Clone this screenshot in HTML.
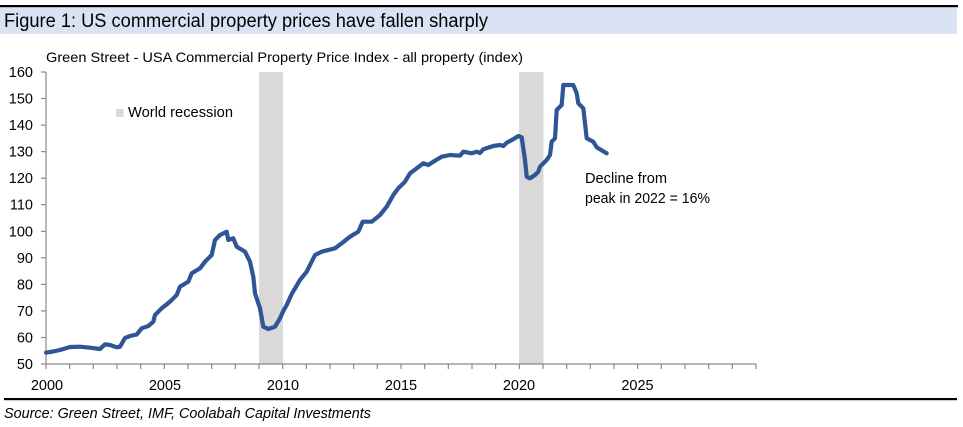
<!DOCTYPE html>
<html>
<head>
<meta charset="utf-8">
<style>
html,body{margin:0;padding:0;background:#fff;}
svg{display:block;}
text{font-family:"Liberation Sans",Arial,sans-serif;fill:#000;}
</style>
</head>
<body>
<svg width="963" height="427" viewBox="0 0 963 427" xmlns="http://www.w3.org/2000/svg">
  <!-- header -->
  <rect x="0" y="7" width="957" height="27" fill="#dae3f3"/>
  <rect x="0" y="5" width="958" height="2.2" fill="#000"/>
  <text x="4" y="27" font-size="19" textLength="484" lengthAdjust="spacingAndGlyphs">Figure 1: US commercial property prices have fallen sharply</text>

  <!-- subtitle -->
  <text x="46" y="62" font-size="14" textLength="477" lengthAdjust="spacingAndGlyphs">Green Street - USA Commercial Property Price Index - all property (index)</text>

  <!-- recession bars -->
  <rect x="259" y="72" width="24" height="292" fill="#d9d9d9"/>
  <rect x="519" y="72" width="24.5" height="292" fill="#d9d9d9"/>

  <!-- legend -->
  <rect x="116" y="109" width="7.5" height="8" fill="#d9d9d9"/>
  <text x="128" y="117" font-size="15" textLength="105" lengthAdjust="spacingAndGlyphs">World recession</text>

  <!-- axes -->
  <g stroke="#898989" stroke-width="1.2" fill="none">
    <line x1="46" y1="72" x2="46" y2="364"/>
    <line x1="46" y1="364" x2="756" y2="364"/>
    <line x1="41" y1="72" x2="46" y2="72"/>
    <line x1="41" y1="98.5" x2="46" y2="98.5"/>
    <line x1="41" y1="125.1" x2="46" y2="125.1"/>
    <line x1="41" y1="151.6" x2="46" y2="151.6"/>
    <line x1="41" y1="178.2" x2="46" y2="178.2"/>
    <line x1="41" y1="204.7" x2="46" y2="204.7"/>
    <line x1="41" y1="231.3" x2="46" y2="231.3"/>
    <line x1="41" y1="257.8" x2="46" y2="257.8"/>
    <line x1="41" y1="284.4" x2="46" y2="284.4"/>
    <line x1="41" y1="310.9" x2="46" y2="310.9"/>
    <line x1="41" y1="337.5" x2="46" y2="337.5"/>
    <line x1="41" y1="364" x2="46" y2="364"/>
    <path d="M46 364v5M69.67 364v5M93.33 364v5M117 364v5M140.67 364v5M164.33 364v5M188 364v5M211.67 364v5M235.33 364v5M259 364v5M282.67 364v5M306.33 364v5M330 364v5M353.67 364v5M377.33 364v5M401 364v5M424.67 364v5M448.33 364v5M472 364v5M495.67 364v5M519.33 364v5M543 364v5M566.67 364v5M590.33 364v5M614 364v5M637.67 364v5M661.33 364v5M685 364v5M708.67 364v5M732.33 364v5M756 364v5"/>
  </g>

  <!-- y labels -->
  <g font-size="14.5" text-anchor="end">
    <text x="33" y="77">160</text>
    <text x="33" y="103.5">150</text>
    <text x="33" y="130.1">140</text>
    <text x="33" y="156.6">130</text>
    <text x="33" y="183.2">120</text>
    <text x="33" y="209.7">110</text>
    <text x="33" y="236.3">100</text>
    <text x="33" y="262.8">90</text>
    <text x="33" y="289.4">80</text>
    <text x="33" y="315.9">70</text>
    <text x="33" y="342.5">60</text>
    <text x="33" y="369">50</text>
  </g>

  <!-- x labels -->
  <g font-size="14.5" text-anchor="middle">
    <text x="47" y="390">2000</text>
    <text x="165" y="390">2005</text>
    <text x="283" y="390">2010</text>
    <text x="401" y="390">2015</text>
    <text x="519" y="390">2020</text>
    <text x="637.5" y="390">2025</text>
  </g>

  <!-- series -->
  <polyline fill="none" stroke="#2f5597" stroke-width="4.2" stroke-linejoin="round" stroke-linecap="round"
    points="46,352.7 53,351.5 60,350 70,347 80,346.7 90,347.7 100,349 105,344.3 110,345 116.7,347.3 120,346.7 125,338 130,336 136.7,334.5 141.7,328.3 148.3,326 153.3,321.7 155,315 161.7,308.3 170,301.7 176.7,295 180,286.7 188.3,281.7 191.7,273.3 200,268.3 205,261.7 211.7,255 215,240 220,235 226.7,231.7 228.3,240 233.3,238.3 236.7,246.7 245,251.7 250,261.7 253.3,276.7 255,293.3 260,308.3 263.3,326.7 268.3,329 275,326.7 280,318.3 283.3,311 286.7,305 291.7,294 300,280 306.7,271.7 315,255 321.7,251.7 335,248.3 341.7,243.3 350,236.7 358.3,231.7 362.7,221.7 371.7,221.7 380,215 386.7,206.7 393.3,195 398.3,188.3 405,181.7 410,173.3 416.7,168.3 423.3,163.3 428.3,165 435,160.7 441.7,156.7 450,155 460,155.7 463.3,151.7 471.7,153.3 476.7,151.7 480,153 483.3,149.3 493.3,146 500,145 503.3,146 506.7,142.7 513.3,139.3 518.3,136 521.7,137.3 525,160 526.7,176.7 530,178.3 535,175 538.3,171.7 540,166.7 546.7,160 550,155 551.7,141.7 555,138.3 556.7,110 561.7,105 563.3,85 573.3,85 576.7,93.3 578.3,103.3 583.3,108.3 586.7,138.3 593.3,141.7 596.7,147.3 606.7,153.3"/>

  <!-- annotation -->
  <text x="585" y="183" font-size="14.5" textLength="82" lengthAdjust="spacingAndGlyphs">Decline from</text>
  <text x="585" y="203" font-size="14.5" textLength="125" lengthAdjust="spacingAndGlyphs">peak in 2022 = 16%</text>

  <!-- bottom rule & source -->
  <rect x="4" y="398" width="953" height="2.2" fill="#000"/>
  <text x="4" y="418" font-size="14.5" font-style="italic" textLength="367" lengthAdjust="spacingAndGlyphs">Source: Green Street, IMF, Coolabah Capital Investments</text>
</svg>
</body>
</html>
